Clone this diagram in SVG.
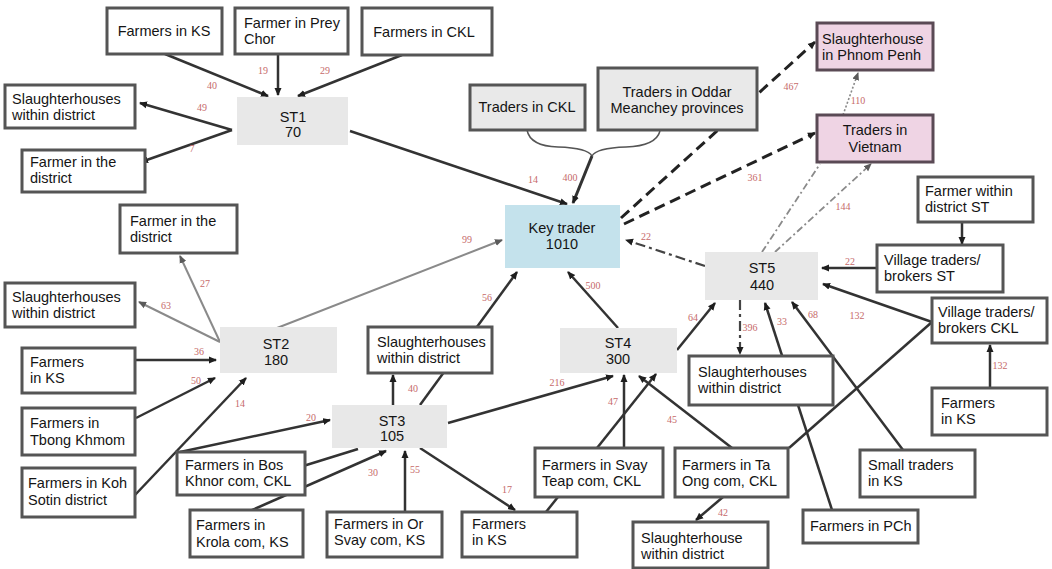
<svg xmlns="http://www.w3.org/2000/svg" width="1052" height="569" viewBox="0 0 1052 569">
  <style>
    .box { fill: #ffffff; stroke: #555555; stroke-width: 3; }
    .gbox { fill: #e9e9e9; stroke: #555555; stroke-width: 3; }
    .pbox { fill: #efd4e4; stroke: #5a4a55; stroke-width: 3; }
    .st { fill: #e8e8e8; stroke: none; }
    .key { fill: #c4e2ec; stroke: none; }
    text { font-family: "Liberation Sans", Arial, sans-serif; font-size: 14.5px; fill: #151515; }
    .c { text-anchor: middle; }
    .lbl { font-family: "Liberation Serif", "Times New Roman", serif; font-size: 10px; fill: #c66a6a; text-anchor: middle; }
    .solid { fill: none; stroke: #333333; stroke-width: 2.5; }
    .light { fill: none; stroke: #8a8a8a; stroke-width: 2; }
    .thin { fill: none; stroke: #555555; stroke-width: 1.5; }
    .dash { fill: none; stroke: #222222; stroke-width: 3; stroke-dasharray: 11 6; }
    .dashdot { fill: none; stroke: #444444; stroke-width: 2.2; stroke-dasharray: 10 4 3 4; }
    .dashdot-l { fill: none; stroke: #8a8a8a; stroke-width: 1.8; stroke-dasharray: 7 3 2 3; }
    .dotted { fill: none; stroke: #8a8a8a; stroke-width: 1.6; stroke-dasharray: 2 2; }
  </style>
  <defs>
    <marker id="arr" markerUnits="userSpaceOnUse" markerWidth="8" markerHeight="8" viewBox="0 0 8 8" refX="7" refY="4" orient="auto">
      <path d="M0,0.5 L8,4 L0,7.5 z" fill="#1e1e1e"/>
    </marker>
    <marker id="arr-g" markerUnits="userSpaceOnUse" markerWidth="8" markerHeight="8" viewBox="0 0 8 8" refX="7" refY="4" orient="auto">
      <path d="M0,0.5 L8,4 L0,7.5 z" fill="#5a5a5a"/>
    </marker>
  </defs>

  <rect width="1052" height="569" fill="#ffffff"/>

  <!-- flows between actors -->
  <g id="connectors">
    <!-- into and out of ST1 -->
    <path class="solid" d="M165,54 L268,96" marker-end="url(#arr)"/>
    <path class="solid" d="M278,54 L278,95" marker-end="url(#arr)"/>
    <path class="solid" d="M402,55 L298,96" marker-end="url(#arr)"/>
    <path class="solid" d="M232,130 L140,103" marker-end="url(#arr)"/>
    <path class="solid" d="M232,130 L141,162" marker-end="url(#arr)"/>
    <path class="solid" d="M350,131 L567,204" marker-end="url(#arr)"/>

    <!-- traders in CKL and Oddar Meanchey feeding the key trader -->
    <path class="thin" d="M527,130 Q530,146 558,147 Q588,148 592,156"/>
    <path class="thin" d="M660,131 Q656,146 626,147 Q596,148 592,156"/>
    <path class="solid" style="stroke-width:3" d="M592,156 L573,203" marker-end="url(#arr)"/>

    <!-- key trader to distant buyers -->
    <path class="dash" d="M621,218 L815,42" marker-end="url(#arr)"/>
    <path class="dash" d="M624,224 L815,133" marker-end="url(#arr)"/>
    <path class="dotted" d="M843,115 L858,73" marker-end="url(#arr-g)"/>

    <!-- ST5 -->
    <path class="dashdot-l" d="M762,252 L820,164"/>
    <path class="dashdot-l" d="M775,252 L871,164" marker-end="url(#arr-g)"/>
    <path class="dashdot" d="M705,266 L626,240" marker-end="url(#arr)"/>
    <path class="dashdot" d="M740,300 L740,354" marker-end="url(#arr)"/>
    <path class="solid" d="M832,510 L765,303" marker-end="url(#arr)"/>
    <path class="solid" d="M903,450 L792,302" marker-end="url(#arr)"/>
    <path class="solid" d="M877,268 L822,268" marker-end="url(#arr)"/>
    <path class="solid" d="M932,322 L823,284" marker-end="url(#arr)"/>
    <path class="solid" d="M962,222 L962,244" marker-end="url(#arr)"/>
    <path class="solid" d="M990,388 L990,345" marker-end="url(#arr)"/>
    <path class="solid" d="M932,322 L789,448"/>

    <!-- ST4 -->
    <path class="solid" d="M618,328 L568,272" marker-end="url(#arr)"/>
    <path class="solid" d="M677,350 L715,303" marker-end="url(#arr)"/>
    <path class="solid" d="M732,448 L639,376" marker-end="url(#arr)"/>
    <path class="solid" d="M624,448 L624,375" marker-end="url(#arr)"/>
    <path class="solid" d="M546,512 L656,374" marker-end="url(#arr)"/>
    <path class="solid" d="M723,497 L696,520" marker-end="url(#arr)"/>

    <!-- ST3 -->
    <path class="solid" d="M448,423 L613,376" marker-end="url(#arr)"/>
    <path class="solid" d="M393,405 L393,375" marker-end="url(#arr)"/>
    <path class="solid" d="M420,405 L517,272" marker-end="url(#arr)"/>
    <path class="solid" d="M180,452 L330,420" marker-end="url(#arr)"/>
    <path class="solid" d="M300,467 L358,449"/>
    <path class="solid" d="M250,511 L386,451" marker-end="url(#arr)"/>
    <path class="solid" d="M405,512 L405,451" marker-end="url(#arr)"/>
    <path class="solid" d="M420,448 L515,510" marker-end="url(#arr)"/>

    <!-- ST2 -->
    <path class="light" d="M277,328 L502,240" marker-end="url(#arr-g)"/>
    <path class="light" d="M220,342 L180,256" marker-end="url(#arr-g)"/>
    <path class="light" d="M220,342 L139,302" marker-end="url(#arr-g)"/>
    <path class="solid" d="M135,360 L216,360" marker-end="url(#arr)"/>
    <path class="solid" d="M136,418 L215,378" marker-end="url(#arr)"/>
    <path class="solid" d="M135,495 L246,378" marker-end="url(#arr)"/>

    <!-- flow volumes -->
    <text class="lbl" x="212" y="89">40</text>
    <text class="lbl" x="263" y="74">19</text>
    <text class="lbl" x="325" y="74">29</text>
    <text class="lbl" x="202" y="111">49</text>
    <text class="lbl" x="192" y="152">7</text>
    <text class="lbl" x="533" y="183">14</text>
    <text class="lbl" x="570" y="181">400</text>
    <text class="lbl" x="791" y="90">467</text>
    <text class="lbl" x="858" y="104">110</text>
    <text class="lbl" x="755" y="181">361</text>
    <text class="lbl" x="843" y="210">144</text>
    <text class="lbl" x="646" y="240">22</text>
    <text class="lbl" x="593" y="289">500</text>
    <text class="lbl" x="693" y="321">64</text>
    <text class="lbl" x="750" y="331">396</text>
    <text class="lbl" x="782" y="325">33</text>
    <text class="lbl" x="813" y="318">68</text>
    <text class="lbl" x="850" y="265">22</text>
    <text class="lbl" x="857" y="319">132</text>
    <text class="lbl" x="1000" y="369">132</text>
    <text class="lbl" x="672" y="423">45</text>
    <text class="lbl" x="613" y="405">47</text>
    <text class="lbl" x="723" y="516">42</text>
    <text class="lbl" x="557" y="386">216</text>
    <text class="lbl" x="413" y="392">40</text>
    <text class="lbl" x="487" y="301">56</text>
    <text class="lbl" x="311" y="421">20</text>
    <text class="lbl" x="373" y="476">30</text>
    <text class="lbl" x="415" y="473">55</text>
    <text class="lbl" x="507" y="493">17</text>
    <text class="lbl" x="467" y="243">99</text>
    <text class="lbl" x="205" y="287">27</text>
    <text class="lbl" x="166" y="309">63</text>
    <text class="lbl" x="199" y="355">36</text>
    <text class="lbl" x="196" y="384">50</text>
    <text class="lbl" x="240" y="407">14</text>
  </g>

  <!-- actors -->
  <g id="farmers-ks-top"><rect class="box" x="107" y="8" width="115" height="46"/><text class="c" x="164" y="36">Farmers in KS</text></g>
  <g id="farmer-prey-chor"><rect class="box" x="235" y="8" width="113" height="46"/><text x="244" y="28">Farmer in Prey</text><text x="244" y="44">Chor</text></g>
  <g id="farmers-ckl-top"><rect class="box" x="362" y="8" width="130" height="47"/><text class="c" x="424" y="37">Farmers in CKL</text></g>
  <g id="slaughter-st1"><rect class="box" x="5" y="85" width="130" height="43"/><text x="12" y="104">Slaughterhouses</text><text x="12" y="120">within district</text></g>
  <g id="farmer-district-st1"><rect class="box" x="22" y="150" width="123" height="42"/><text x="30" y="167">Farmer in the</text><text x="30" y="183">district</text></g>
  <g id="st1"><rect class="st" x="237" y="97" width="111" height="48"/><text class="c" x="293" y="122">ST1</text><text class="c" x="293" y="137">70</text></g>
  <g id="traders-ckl"><rect class="gbox" x="470" y="85" width="115" height="45"/><text class="c" x="527" y="112">Traders in CKL</text></g>
  <g id="traders-oddar"><rect class="gbox" x="598" y="68" width="159" height="62"/><text class="c" x="677" y="97">Traders in Oddar</text><text class="c" x="677" y="113">Meanchey provinces</text></g>
  <g id="slaughter-pp"><rect class="pbox" x="817" y="23" width="116" height="47"/><text x="822" y="44">Slaughterhouse</text><text x="822" y="60">in Phnom Penh</text></g>
  <g id="traders-vietnam"><rect class="pbox" x="817" y="115" width="116" height="47"/><text class="c" x="875" y="135">Traders in</text><text class="c" x="875" y="152">Vietnam</text></g>
  <g id="farmer-district-st"><rect class="box" x="918" y="177" width="115" height="45"/><text x="925" y="196">Farmer within</text><text x="925" y="212">district ST</text></g>
  <g id="village-st"><rect class="box" x="877" y="245" width="126" height="47"/><text x="884" y="265">Village traders/</text><text x="884" y="281">brokers ST</text></g>
  <g id="village-ckl"><rect class="box" x="932" y="298" width="115" height="45"/><text x="938" y="317">Village traders/</text><text x="938" y="333">brokers CKL</text></g>
  <g id="farmers-ks-right"><rect class="box" x="932" y="388" width="115" height="47"/><text x="941" y="408">Farmers</text><text x="941" y="424">in KS</text></g>
  <g id="small-traders-ks"><rect class="box" x="860" y="450" width="115" height="47"/><text x="868" y="470">Small traders</text><text x="868" y="486">in KS</text></g>
  <g id="farmers-pch"><rect class="box" x="803" y="510" width="115" height="33"/><text x="810" y="531">Farmers in PCh</text></g>
  <g id="key-trader"><rect class="key" x="505" y="205" width="115" height="63"/><text class="c" x="562" y="233">Key trader</text><text class="c" x="562" y="249">1010</text></g>
  <g id="st5"><rect class="st" x="705" y="252" width="113" height="48"/><text class="c" x="762" y="273">ST5</text><text class="c" x="762" y="290">440</text></g>
  <g id="st4"><rect class="st" x="560" y="328" width="117" height="45"/><text class="c" x="618" y="348">ST4</text><text class="c" x="618" y="364">300</text></g>
  <g id="st2"><rect class="st" x="220" y="327" width="117" height="46"/><text class="c" x="276" y="349">ST2</text><text class="c" x="276" y="365">180</text></g>
  <g id="st3"><rect class="st" x="332" y="405" width="115" height="43"/><text class="c" x="392" y="426">ST3</text><text class="c" x="392" y="441">105</text></g>
  <g id="slaughter-st3"><rect class="box" x="368" y="327" width="124" height="46"/><text x="377" y="347">Slaughterhouses</text><text x="377" y="363">within district</text></g>
  <g id="farmer-district-st2"><rect class="box" x="120" y="205" width="117" height="48"/><text x="130" y="226">Farmer in the</text><text x="130" y="242">district</text></g>
  <g id="slaughter-st2"><rect class="box" x="5" y="283" width="130" height="44"/><text x="12" y="302">Slaughterhouses</text><text x="12" y="318">within district</text></g>
  <g id="farmers-ks-left"><rect class="box" x="22" y="348" width="113" height="45"/><text x="30" y="367">Farmers</text><text x="30" y="383">in KS</text></g>
  <g id="farmers-tbong-khmom"><rect class="box" x="22" y="408" width="113" height="47"/><text x="30" y="428">Farmers in</text><text x="30" y="445">Tbong Khmom</text></g>
  <g id="farmers-koh-sotin"><rect class="box" x="22" y="468" width="113" height="49"/><text x="28" y="488">Farmers in Koh</text><text x="28" y="505">Sotin district</text></g>
  <g id="farmers-bos-khnor"><rect class="box" x="177" y="452" width="128" height="43"/><text x="185" y="470">Farmers in Bos</text><text x="185" y="486">Khnor com, CKL</text></g>
  <g id="farmers-krola"><rect class="box" x="190" y="510" width="113" height="47"/><text x="196" y="530">Farmers in</text><text x="196" y="547">Krola com, KS</text></g>
  <g id="farmers-or-svay"><rect class="box" x="327" y="512" width="115" height="45"/><text x="334" y="529">Farmers in Or</text><text x="334" y="545">Svay com, KS</text></g>
  <g id="farmers-ks-bottom"><rect class="box" x="462" y="512" width="115" height="45"/><text x="472" y="529">Farmers</text><text x="472" y="545">in KS</text></g>
  <g id="farmers-svay-teap"><rect class="box" x="535" y="448" width="128" height="49"/><text x="542" y="470">Farmers in Svay</text><text x="542" y="486">Teap com, CKL</text></g>
  <g id="farmers-ta-ong"><rect class="box" x="675" y="448" width="113" height="49"/><text x="682" y="470">Farmers in Ta</text><text x="682" y="486">Ong com, CKL</text></g>
  <g id="slaughter-st4"><rect class="box" x="633" y="522" width="135" height="46"/><text x="641" y="543">Slaughterhouse</text><text x="641" y="559">within district</text></g>
  <g id="slaughter-st5"><rect class="box" x="689" y="356" width="144" height="49"/><text x="698" y="377">Slaughterhouses</text><text x="698" y="393">within district</text></g>
</svg>
